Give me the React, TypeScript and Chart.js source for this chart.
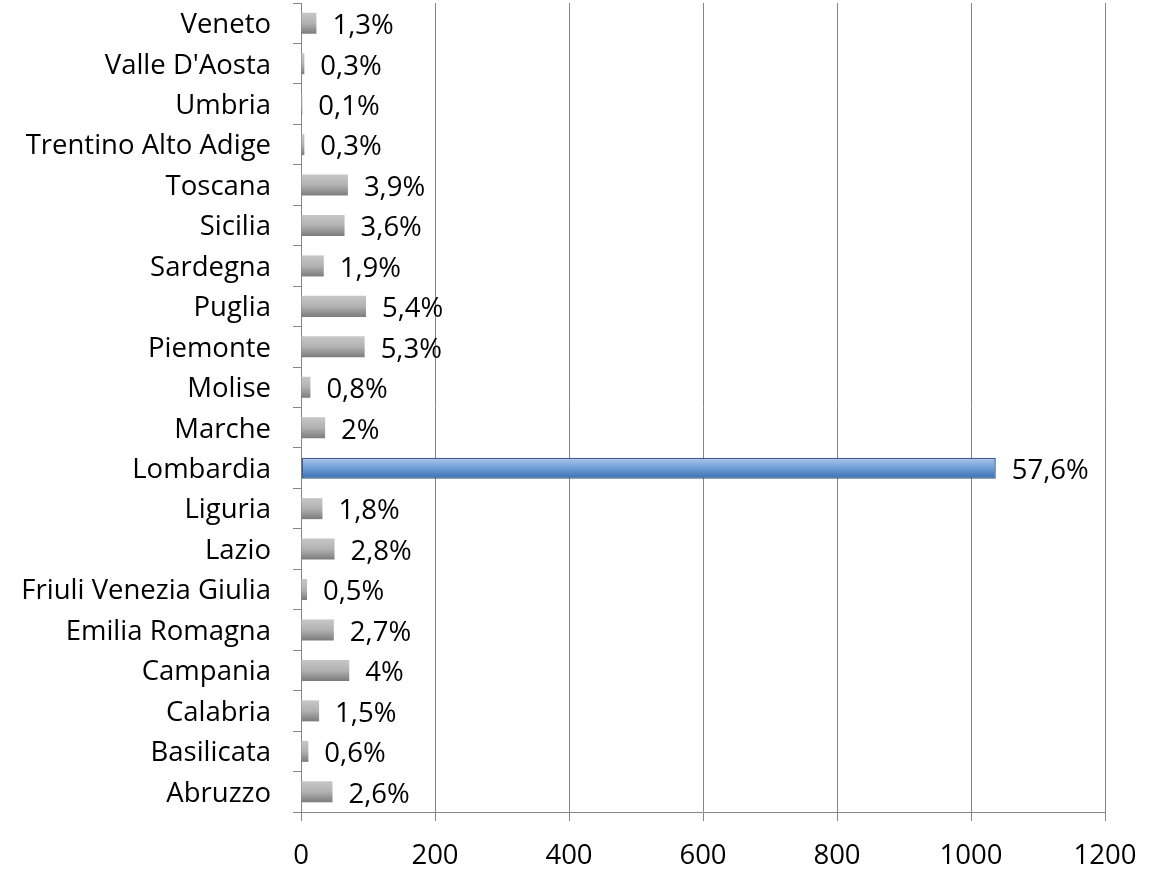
import React, { useEffect, useRef } from "react";
import { Chart, registerables } from "chart.js";

Chart.register(...registerables);

const categories = [
  "Veneto",
  "Valle D'Aosta",
  "Umbria",
  "Trentino Alto Adige",
  "Toscana",
  "Sicilia",
  "Sardegna",
  "Puglia",
  "Piemonte",
  "Molise",
  "Marche",
  "Lombardia",
  "Liguria",
  "Lazio",
  "Friuli Venezia Giulia",
  "Emilia Romagna",
  "Campania",
  "Calabria",
  "Basilicata",
  "Abruzzo",
];

const values = [23, 5, 2, 5, 70, 65, 34, 97, 95, 14, 36, 1037, 32, 50, 9, 49, 72, 27, 11, 47];

const percentLabels = [
  "1,3%", "0,3%", "0,1%", "0,3%", "3,9%", "3,6%", "1,9%", "5,4%", "5,3%", "0,8%",
  "2%", "57,6%", "1,8%", "2,8%", "0,5%", "2,7%", "4%", "1,5%", "0,6%", "2,6%",
];

const highlighted = "Lombardia";

const FONT = "'Open Sans', sans-serif";
const FSIZE = 27.5;

export default function App() {
  const ref = useRef<HTMLCanvasElement | null>(null);

  useEffect(() => {
    if (!ref.current) return;
    const HALF = 10;
    const labelPlugin = {
      id: "pctLabels",
      afterDatasetsDraw(chart: any) {
        const ctx = chart.ctx;
        const meta = chart.getDatasetMeta(0);
        ctx.save();
        ctx.font = `${FSIZE}px ${FONT}`;
        ctx.fillStyle = "#000";
        ctx.textBaseline = "middle";
        ctx.textAlign = "left";
        meta.data.forEach((el: any, i: number) => {
          ctx.fillText(percentLabels[i], el.x + 16, el.y + 3);
        });
        ctx.restore();
      },
    };

    const chart = new Chart(ref.current, {
      type: "bar",
      data: {
        labels: categories,
        datasets: [
          {
            data: values,
            barPercentage: 0.52,
            categoryPercentage: 1,
            backgroundColor: (c: any) => {
              const chart = c.chart;
              const ys = chart.scales && chart.scales.y;
              const isHi = categories[c.dataIndex] === highlighted;
              const fallback = isHi ? "#6c9ad3" : "#a6a6a6";
              if (!ys || typeof c.dataIndex !== "number") return fallback;
              const y = ys.getPixelForValue(c.dataIndex);
              if (!Number.isFinite(y)) return fallback;
              const g = chart.ctx.createLinearGradient(0, y - HALF, 0, y + HALF);
              if (isHi) {
                g.addColorStop(0, "#a9c6ea");
                g.addColorStop(0.5, "#6f9dd5");
                g.addColorStop(1, "#3e70b2");
              } else {
                g.addColorStop(0, "#c6c6c6");
                g.addColorStop(0.5, "#b2b2b2");
                g.addColorStop(1, "#7e7e7e");
              }
              return g;
            },
            borderColor: (c: any) => (categories[c.dataIndex] === highlighted ? "#3a5f8f" : "rgba(0,0,0,0)"),
            borderWidth: (c: any) => (categories[c.dataIndex] === highlighted ? 1.5 : 0),
            borderSkipped: false,
          },
        ],
      },
      plugins: [labelPlugin],
      options: {
        indexAxis: "y",
        animation: false,
        responsive: false,
        maintainAspectRatio: false,
        layout: { padding: { left: 0, right: 52, top: 3, bottom: 0 } },
        plugins: {
          legend: { display: false },
          tooltip: { enabled: false },
          title: { display: false },
        },
        scales: {
          x: {
            min: 0,
            max: 1200,
            ticks: {
              stepSize: 200,
              color: "#000",
              font: { family: FONT, size: FSIZE },
              padding: 19,
              maxRotation: 0,
              callback: (v: any) => String(v),
            },
            grid: {
              color: "#868686",
              lineWidth: 1,
              drawOnChartArea: true,
              drawTicks: true,
              tickLength: 9,
            },
            border: { display: true, color: "#868686", width: 1 },
            afterFit: (s: any) => {
              s.height = 57;
              s.paddingLeft = 0;
              s.paddingRight = 0;
            },
          },
          y: {
            ticks: {
              color: "#000",
              font: { family: FONT, size: FSIZE },
              padding: 22,
              autoSkip: false,
              labelOffset: 2,
            },
            grid: {
              offset: true,
              drawOnChartArea: false,
              drawTicks: true,
              tickLength: 8,
              color: "#868686",
            },
            border: { display: true, color: "#868686", width: 1 },
            afterFit: (s: any) => {
              s.width = 301;
              s.paddingTop = 0;
              s.paddingBottom = 0;
            },
          },
        },
      },
    } as any);

    return () => chart.destroy();
  }, []);

  return (
    <div style={{ position: "absolute", left: 0, top: 0, width: 1157, height: 869, background: "#fff" }}>
      <canvas ref={ref} width={1157} height={869} style={{ width: 1157, height: 869 }} />
    </div>
  );
}
